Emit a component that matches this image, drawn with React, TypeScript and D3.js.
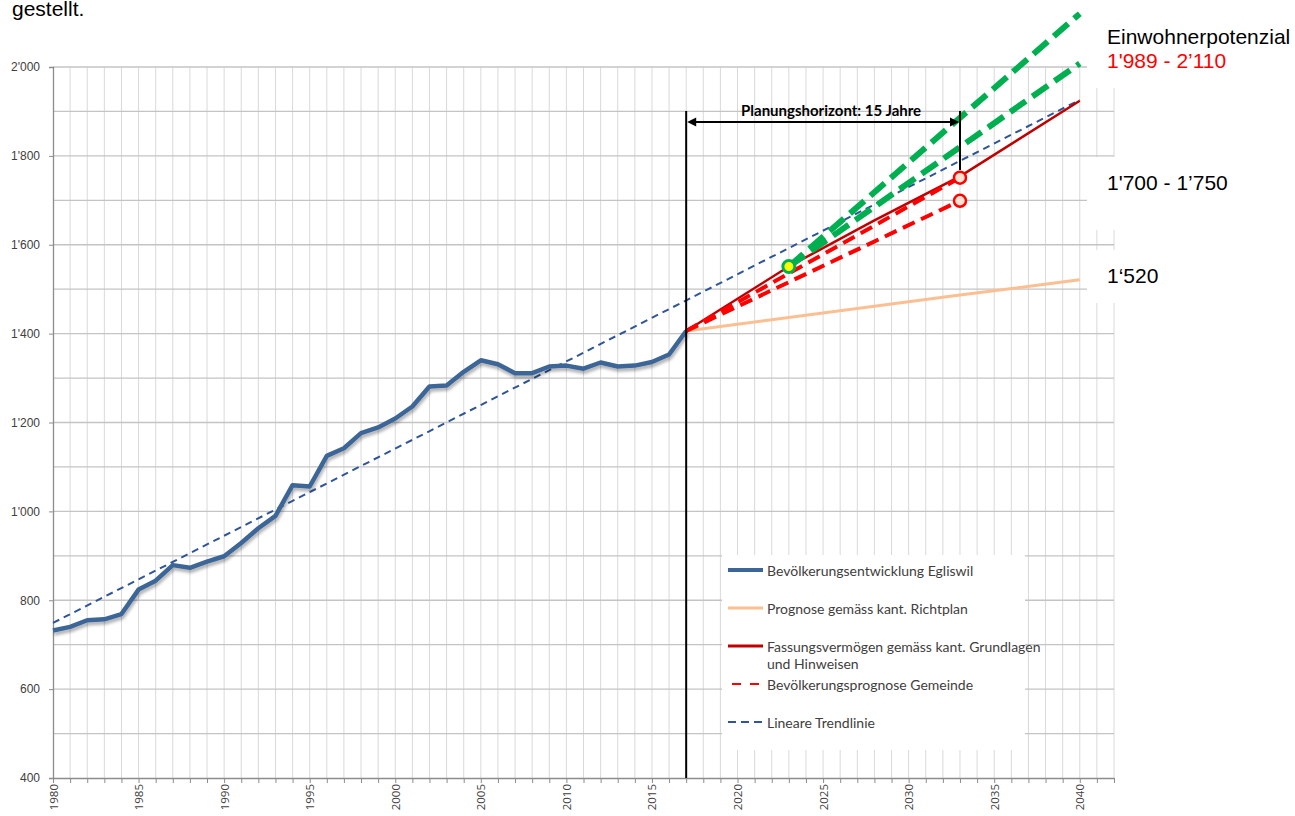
import React, { useEffect, useRef } from 'react';
import * as d3 from 'd3';

const WIDTH = 1295;
const HEIGHT = 816;

// Bevölkerungsentwicklung Egliswil, one value per year from 1980 to 2017
const firstYear = 1980;
const population = [
  732, 740, 755, 757, 769, 824, 844, 879, 873, 887,
  899, 929, 962, 990, 1059, 1056, 1125, 1142, 1176, 1189,
  1209, 1236, 1281, 1283, 1314, 1340, 1331, 1311, 1311, 1326,
  1328, 1321, 1335, 1326, 1328, 1336, 1353, 1406,
];

// projections [year, inhabitants]
const richtplan: [number, number][] = [[2017, 1406], [2033, 1487], [2040, 1521]];
const fassung: [number, number][] = [[2017, 1406], [2023, 1551], [2028, 1655], [2033, 1754], [2040, 1924]];
const gemeindeHigh: [number, number][] = [[2017, 1406], [2033, 1751]];
const gemeindeLow: [number, number][] = [[2017, 1406], [2033, 1699]];
const potenzialHigh: [number, number][] = [[2023, 1551], [2040, 2120]];
const potenzialLow: [number, number][] = [[2023, 1551], [2040, 2008]];
const trend: [number, number][] = [[1980, 749], [2040, 1926]];

const startPoint: [number, number] = [2023, 1551];
const endPoints: [number, number][] = [[2033, 1751], [2033, 1699]];
const horizon = [2017, 2033];

const yTicks = [400, 600, 800, 1000, 1200, 1400, 1600, 1800, 2000];
const yMinorGrid = [500, 700, 900, 1100, 1300, 1500, 1700, 1900];
const xLabelYears = [1980, 1985, 1990, 1995, 2000, 2005, 2010, 2015, 2020, 2025, 2030, 2035, 2040];

const legendItems = [
  { label: ['Bevölkerungsentwicklung Egliswil'], color: '#3c6698', width: 4, dash: null },
  { label: ['Prognose gemäss kant. Richtplan'], color: '#fbbf91', width: 3, dash: null },
  { label: ['Fassungsvermögen gemäss kant. Grundlagen', 'und Hinweisen'], color: '#c00000', width: 3, dash: null },
  { label: ['Bevölkerungsprognose Gemeinde'], color: '#ff0000', width: 2, dash: '9,9' },
  { label: ['Lineare Trendlinie'], color: '#2f5597', width: 2, dash: '8,5' },
];

const formatValue = (v: number) =>
  v >= 1000 ? `${Math.floor(v / 1000)}'${String(v % 1000).padStart(3, '0')}` : String(v);

const Chart = () => {
  const ref = useRef<SVGSVGElement | null>(null);

  useEffect(() => {
    if (!ref.current) return;
    const svg = d3.select(ref.current);
    svg.selectAll('*').remove();

    const x = d3.scaleLinear().domain([1980, 2042]).range([53, 1114]);
    const y = d3.scaleLinear().domain([400, 2000]).range([778, 67]);
    const x0 = x.range()[0];
    const x1 = x.range()[1];

    const defs = svg.append('defs');
    defs.append('filter')
      .attr('id', 'shadow')
      .attr('x', '-5%').attr('y', '-10%').attr('width', '110%').attr('height', '130%')
      .append('feDropShadow')
      .attr('dx', 1).attr('dy', 3).attr('stdDeviation', 1.6)
      .attr('flood-color', '#000').attr('flood-opacity', 0.3);

    svg.append('rect').attr('width', WIDTH).attr('height', HEIGHT).attr('fill', '#fff');

    // heading fragment from the page above the chart
    svg.append('text')
      .attr('x', 12).attr('y', 16)
      .style('font-family', 'Liberation Sans, Arial, sans-serif')
      .style('font-size', '21px')
      .attr('fill', '#000')
      .text('gestellt.');

    // grid
    const years = d3.range(1981, 2043);
    svg.append('g').selectAll('line').data(years).join('line')
      .attr('x1', d => x(d)).attr('x2', d => x(d))
      .attr('y1', y(2000)).attr('y2', y(400))
      .attr('stroke', '#d9d9d9').attr('stroke-width', 1);

    svg.append('g').selectAll('line').data(yMinorGrid.concat(yTicks.slice(1))).join('line')
      .attr('x1', x0).attr('x2', x1)
      .attr('y1', d => y(d)).attr('y2', d => y(d))
      .attr('stroke', '#c4c4c4').attr('stroke-width', 1.3);

    // axes
    const yAxis = svg.append('g').attr('transform', `translate(${x0},0)`)
      .call(d3.axisLeft(y).tickValues(yTicks).tickSize(4).tickFormat(d => formatValue(+d)));
    yAxis.select('.domain').attr('stroke', '#8c8c8c').attr('stroke-width', 1.3);
    yAxis.selectAll('.tick line').attr('stroke', '#8c8c8c');
    yAxis.selectAll('.tick text')
      .attr('x', -13)
      .attr('fill', '#404040')
      .style('font-family', 'Liberation Sans, Arial, sans-serif')
      .style('font-size', '12px');

    const xAxis = svg.append('g').attr('transform', `translate(0,${y(400)})`)
      .call(d3.axisBottom(x).tickValues(d3.range(1980, 2043)).tickSize(5).tickSizeOuter(0).tickFormat(() => ''));
    xAxis.select('.domain').attr('stroke', '#8c8c8c').attr('stroke-width', 1.3);
    xAxis.selectAll('.tick line').attr('stroke', '#8c8c8c');

    svg.append('g').selectAll('text').data(xLabelYears).join('text')
      .attr('transform', d => `translate(${x(d)},${y(400) + 6}) rotate(-90)`)
      .attr('text-anchor', 'end')
      .attr('dominant-baseline', 'central')
      .attr('fill', '#404040')
      .style('font-family', 'Open Sans, sans-serif')
      .style('font-size', '11.5px')
      .text(d => d);

    const line = d3.line<[number, number]>().x(d => x(d[0])).y(d => y(d[1]));

    // linear trend
    svg.append('path').datum(trend).attr('d', line)
      .attr('fill', 'none').attr('stroke', '#2f5597').attr('stroke-width', 2)
      .attr('stroke-dasharray', '7,5');

    // history
    const history: [number, number][] = population.map((v, i) => [firstYear + i, v]);
    svg.append('path').datum(history).attr('d', line)
      .attr('fill', 'none').attr('stroke', '#3c6698').attr('stroke-width', 4.5)
      .attr('stroke-linejoin', 'round')
      .attr('filter', 'url(#shadow)');

    svg.append('path').datum(richtplan).attr('d', line)
      .attr('fill', 'none').attr('stroke', '#fbbf91').attr('stroke-width', 3);

    svg.append('path').datum(fassung).attr('d', line)
      .attr('fill', 'none').attr('stroke', '#c00000').attr('stroke-width', 2.5);

    [gemeindeHigh, gemeindeLow].forEach(s => {
      svg.append('path').datum(s).attr('d', line)
        .attr('fill', 'none').attr('stroke', '#ff0000').attr('stroke-width', 4)
        .attr('stroke-dasharray', '13,7');
    });

    [potenzialHigh, potenzialLow].forEach(s => {
      svg.append('path').datum(s).attr('d', line)
        .attr('fill', 'none').attr('stroke', '#00b050').attr('stroke-width', 6)
        .attr('stroke-dasharray', '19,8');
    });

    // planning horizon
    const hx0 = x(horizon[0]);
    const hx1 = x(horizon[1]);
    const hy = 122;
    svg.append('line')
      .attr('x1', hx0).attr('x2', hx0).attr('y1', 111).attr('y2', y(400))
      .attr('stroke', '#000').attr('stroke-width', 2);
    svg.append('line')
      .attr('x1', hx1).attr('x2', hx1).attr('y1', 111).attr('y2', 170)
      .attr('stroke', '#000').attr('stroke-width', 2);
    svg.append('line')
      .attr('x1', hx0 + 4).attr('x2', hx1 - 4).attr('y1', hy).attr('y2', hy)
      .attr('stroke', '#000').attr('stroke-width', 2);
    svg.append('path')
      .attr('d', `M${hx0 + 1},${hy} L${hx0 + 10},${hy - 4.5} L${hx0 + 10},${hy + 4.5} Z`)
      .attr('fill', '#000');
    svg.append('path')
      .attr('d', `M${hx1 - 1},${hy} L${hx1 - 10},${hy - 4.5} L${hx1 - 10},${hy + 4.5} Z`)
      .attr('fill', '#000');
    svg.append('text')
      .attr('x', (hx0 + hx1) / 2 + 8).attr('y', 116)
      .attr('text-anchor', 'middle')
      .attr('fill', '#000')
      .style('font-family', 'Lato, sans-serif')
      .style('font-weight', 'bold')
      .style('font-size', '15px')
      .text('Planungshorizont: 15 Jahre');

    // markers
    svg.append('g').selectAll('circle').data(endPoints).join('circle')
      .attr('cx', d => x(d[0])).attr('cy', d => y(d[1])).attr('r', 6)
      .attr('fill', '#fde3d2').attr('stroke', '#ff0000').attr('stroke-width', 2.5);
    svg.append('circle')
      .attr('cx', x(startPoint[0])).attr('cy', y(startPoint[1])).attr('r', 6)
      .attr('fill', '#ffff00').attr('stroke', '#00b050').attr('stroke-width', 3);

    // legend
    const lg = svg.append('g');
    lg.append('rect').attr('x', 722).attr('y', 555).attr('width', 303).attr('height', 195).attr('fill', '#fff');
    const rowY = [570, 608, 646, 684, 722];
    legendItems.forEach((item, i) => {
      lg.append('line')
        .attr('x1', i === 3 ? 732 : 728).attr('x2', 763)
        .attr('y1', rowY[i]).attr('y2', rowY[i])
        .attr('stroke', item.color).attr('stroke-width', item.width)
        .attr('stroke-dasharray', item.dash);
      item.label.forEach((t, j) => {
        lg.append('text')
          .attr('x', 767).attr('y', rowY[i] + j * 17.5)
          .attr('dominant-baseline', 'central')
          .attr('fill', '#404040')
          .style('font-family', 'Lato, sans-serif')
          .style('font-size', '14px')
          .text(t);
      });
    });

    // annotation boxes on the right
    const boxes = [[0, 88], [157, 230], [250, 303]];
    svg.append('g').selectAll('rect').data(boxes).join('rect')
      .attr('x', 1087).attr('y', d => d[0]).attr('width', WIDTH - 1087).attr('height', d => d[1] - d[0])
      .attr('fill', '#fff');

    const notes = [
      { text: '1\'989 - 2\u2019110', y: 68, color: '#ff0000' },
      { text: 'Einwohnerpotenzial', y: 44, color: '#000' },
      { text: '1\'700 - 1\u2019750', y: 190, color: '#000' },
      { text: '1\u2018520', y: 283, color: '#000' },
    ];
    svg.append('g').selectAll('text').data(notes).join('text')
      .attr('x', 1107).attr('y', d => d.y)
      .attr('fill', d => d.color)
      .style('font-family', 'Liberation Sans, Arial, sans-serif')
      .style('font-size', '21px')
      .text(d => d.text);
  }, []);

  return <svg ref={ref} width={WIDTH} height={HEIGHT} style={{ display: 'block' }} />;
};

export default function App() {
  return (
    <div style={{ position: 'absolute', left: 0, top: 0 }}>
      <Chart />
    </div>
  );
}
